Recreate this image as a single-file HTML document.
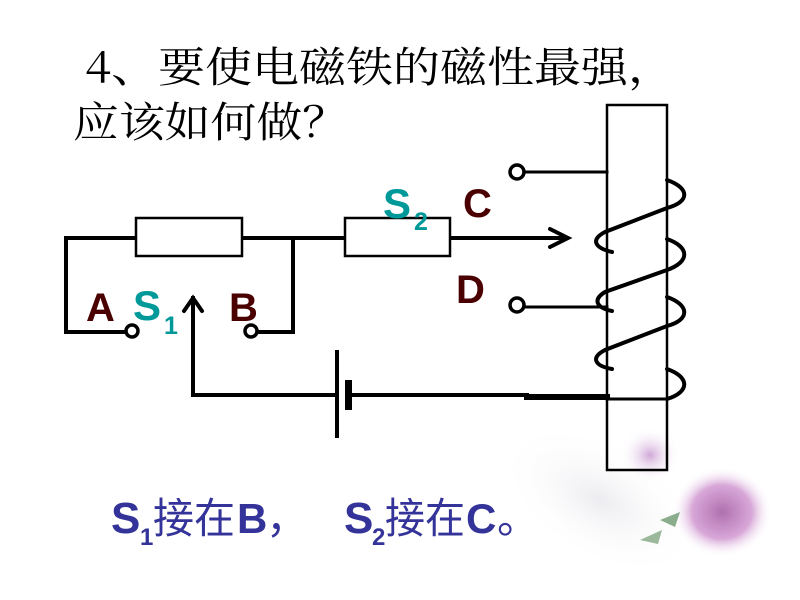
<!DOCTYPE html>
<html><head><meta charset="utf-8"><style>
html,body{margin:0;padding:0;background:#fff;width:800px;height:600px;overflow:hidden}
svg{display:block}
</style></head><body>
<svg width="800" height="600" viewBox="0 0 800 600" xmlns="http://www.w3.org/2000/svg">
<defs>
<radialGradient id="r1" cx="50%" cy="50%" r="50%"><stop offset="0" stop-color="#b070b0"/><stop offset="0.6" stop-color="#d8a8d8"/><stop offset="1" stop-color="#fff" stop-opacity="0"/></radialGradient>
<radialGradient id="r2" cx="50%" cy="50%" r="50%"><stop offset="0" stop-color="#d0a8d8"/><stop offset="1" stop-color="#fff" stop-opacity="0"/></radialGradient>
<radialGradient id="r3" cx="50%" cy="50%" r="50%"><stop offset="0" stop-color="#ececf0"/><stop offset="1" stop-color="#fff" stop-opacity="0"/></radialGradient>
</defs>
<ellipse cx="600" cy="500" rx="110" ry="60" fill="url(#r3)" transform="rotate(30 600 500)"/>
<ellipse cx="722" cy="512" rx="50" ry="45" fill="url(#r1)"/>
<ellipse cx="650" cy="455" rx="30" ry="28" fill="url(#r2)"/>
<path d="M660 520 l20 -8 l-5 15z" fill="#5a8a5a" opacity="0.7"/>
<path d="M640 540 l22 -10 l-4 14z" fill="#5a8a5a" opacity="0.6"/>

<g font-family="'Noto Serif CJK SC','Liberation Serif',serif" font-size="42" fill="#000">
<text x="85" y="82" textLength="590" lengthAdjust="spacingAndGlyphs">4、要使电磁铁的磁性最强，</text>
<text x="73" y="137" textLength="275" lengthAdjust="spacingAndGlyphs">应该如何做？</text>
</g>

<g stroke="#000" stroke-width="4" fill="none" stroke-linecap="square">
<polyline points="66,332 66,238 136,238"/>
<line x1="242" y1="238" x2="345" y2="238"/>
<polyline points="66,332 126,332"/>
<polyline points="257,332 293,332 293,238"/>
<line x1="450" y1="238" x2="566" y2="238"/>
<polyline points="550,229 568,238 550,247" stroke-width="4" stroke-linecap="round"/>
<polyline points="193,395 193,298"/>
<polyline points="184,311 193,298 202,311" stroke-linecap="round"/>
<line x1="193" y1="395" x2="337" y2="395"/>
<line x1="350" y1="395" x2="527" y2="395"/>
<line x1="527" y1="397" x2="607" y2="397" stroke-width="6"/>
<line x1="607" y1="399" x2="665" y2="399" stroke-width="3"/>
<line x1="523" y1="172" x2="607" y2="172" stroke-width="3"/>
<line x1="523" y1="307" x2="607" y2="307" stroke-width="3"/>
</g>
<rect x="335" y="350" width="4" height="88" fill="#000"/>
<rect x="345" y="380" width="7" height="30" fill="#000"/>
<rect x="136" y="218" width="106" height="38" fill="#fff" stroke="#000" stroke-width="2.5"/>
<rect x="345" y="218" width="105" height="38" fill="#fff" stroke="#000" stroke-width="2.5"/>
<g fill="#fff" stroke="#000" stroke-width="3.5">
<circle cx="132" cy="331" r="6"/>
<circle cx="251" cy="331" r="6"/>
<circle cx="517" cy="172" r="7"/>
<circle cx="517" cy="305" r="7"/>
</g>
<rect x="607" y="105" width="60" height="365" fill="none" stroke="#000" stroke-width="2.5"/>
<g stroke="#000" stroke-width="4" fill="none" stroke-linecap="round">
<path d="M667,180 C690,188 690,202 667,208 L605,232 C590,240 595,248 612,252"/>
<path d="M667,239 C690,247 690,262 667,270 L605,292 C592,300 597,308 612,311"/>
<path d="M667,297 C690,305 690,320 667,326 L605,350 C590,358 595,366 612,369"/>
<path d="M667,369 C690,377 690,392 667,399"/>
</g>
<g font-family="'Liberation Sans',sans-serif" font-weight="bold">
<text x="86" y="321" font-size="40" fill="#4a0000">A</text>
<text x="229" y="321" font-size="40" fill="#4a0000">B</text>
<text x="463" y="217" font-size="40" fill="#4a0000">C</text>
<text x="456" y="303" font-size="40" fill="#4a0000">D</text>
<text x="133" y="320" font-size="42" fill="#009999">S</text>
<text x="164" y="334" font-size="25" fill="#009999">1</text>
<text x="383" y="218" font-size="42" fill="#009999">S</text>
<text x="414" y="230" font-size="25" fill="#009999">2</text>
</g>
<g fill="#333399" font-size="42">
<text x="111" y="533" font-size="44" font-family="'Liberation Sans',sans-serif" font-weight="bold">S</text>
<text x="140" y="545" font-size="24" font-family="'Liberation Sans',sans-serif" font-weight="bold">1</text>
<text x="153" y="533" font-family="'Noto Sans CJK SC',sans-serif" textLength="82" lengthAdjust="spacingAndGlyphs">接在</text>
<text x="237" y="533" font-size="42" font-family="'Liberation Sans',sans-serif" font-weight="bold">B</text>
<text x="266" y="533" font-family="'Noto Sans CJK SC',sans-serif">，</text>
<text x="344" y="533" font-size="44" font-family="'Liberation Sans',sans-serif" font-weight="bold">S</text>
<text x="372" y="545" font-size="24" font-family="'Liberation Sans',sans-serif" font-weight="bold">2</text>
<text x="385" y="533" font-family="'Noto Sans CJK SC',sans-serif" textLength="80" lengthAdjust="spacingAndGlyphs">接在</text>
<text x="466" y="533" font-size="42" font-family="'Liberation Sans',sans-serif" font-weight="bold">C</text>
<text x="497" y="533" font-family="'Noto Sans CJK SC',sans-serif">。</text>
</g>
</svg>
</body></html>
